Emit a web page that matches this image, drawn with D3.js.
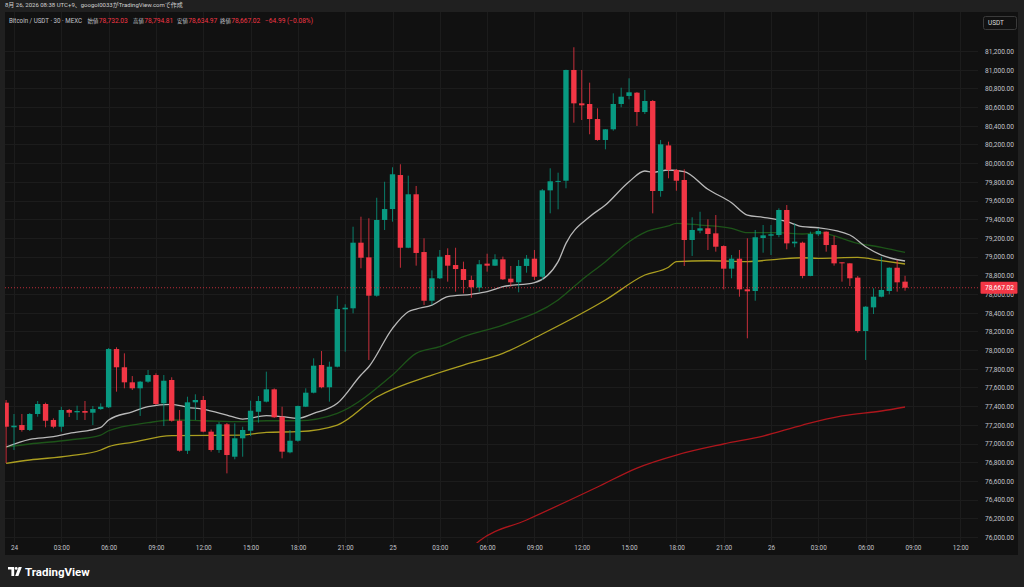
<!DOCTYPE html>
<html><head><meta charset="utf-8">
<script src="https://cdn.jsdelivr.net/npm/d3@7"></script>
<style>
html,body{margin:0;padding:0;background:#202020;overflow:hidden}
svg{display:block}
text{font-family:Roboto,"Noto Sans CJK JP",sans-serif}
</style></head><body>
<svg id="c" width="1024" height="587"></svg>
<script>
// ---------- DATA ----------
const firstIndex = -1; // candle index of first bar (index 0 = 24日 00:00, 30-min bars)
const opens  = [77437,77174,77198,77145,77316,77423,77252,77180,77359,77334,77348,77330,77369,77388,78011,77816,77655,77591,77662,77733,77430,77680,77244,76923,77441,77466,77127,76931,77206,76859,77056,77137,77340,77448,77580,77287,76906,77030,77394,77544,77840,77602,77822,78436,78447,79149,78992,78582,79392,79509,79873,79095,79667,79049,78528,78768,79017,78910,78867,78750,78668,78925,78903,78971,78764,78725,78900,78978,78785,79709,79800,79812,80997,80640,80633,80472,80248,80362,80633,80719,80754,80547,80665,79702,80190,79927,79820,79178,79278,79303,79249,79113,78871,78978,78650,78632,79199,79224,79231,79499,79142,79149,78793,79239,79267,79124,78939,78928,78775,78204,78457,78571,78632,78881,78732.03];
const highs  = [77466,77316,77316,77327,77455,77437,77270,77394,77370,77405,77455,77402,77430,78022,78030,77965,77722,77670,77787,77751,77733,77709,77359,77501,77527,77508,77150,77230,77220,77216,77180,77458,77508,77769,77590,77394,77145,77405,77591,77912,77990,77876,78582,78490,79320,79427,79410,79630,79801,79956,79988,79866,79756,79196,78853,79071,79089,79095,78946,78796,78964,79031,79025,79000,78900,78964,79017,79071,79723,79945,79898,81000,81240,80997,80861,80587,80365,80747,80807,80908,80760,80783,80676,80248,80230,79938,79934,79421,79480,79399,79445,79120,79017,79071,79196,79285,79338,79338,79517,79552,79356,79160,79267,79300,79270,79221,78939,78930,78793,78470,78661,78999,78885,78964,78794.81];
const lows   = [76792,76931,77127,77134,77287,77174,77163,77127,77284,77252,77252,77198,77360,77380,77555,77591,77573,77295,77650,77412,77187,77234,76913,76888,77252,77120,76913,76900,76681,76831,76859,77080,77223,77440,77275,76842,76895,77020,77390,77537,77591,77448,77815,77983,78393,78875,77894,78571,79285,79374,78881,79090,78903,78482,78482,78760,78732,78625,78607,78560,78625,78839,78900,78750,78678,78618,78828,78750,78750,79463,79506,79731,80433,80462,80309,80240,80148,80347,80598,80683,80398,80526,79463,79641,79838,79705,78900,79007,79250,79071,79053,78650,78768,78571,78126,78528,79042,79017,79207,79078,79100,78768,78790,79220,79053,78903,78732,78686,78186,77894,78386,78564,78597,78625,78634.97];
const closes = [77180,77191,77145,77316,77423,77244,77180,77359,77330,77348,77330,77369,77394,78011,77816,77655,77591,77662,77733,77423,77672,77244,76923,77441,77466,77127,76931,77206,76877,77056,77145,77351,77455,77580,77281,76913,77030,77402,77544,77833,77602,77822,78439,78453,79149,78988,78582,79392,79509,79881,79095,79667,79039,78528,78768,78999,78903,78867,78750,78672,78918,78903,78971,78757,78725,78900,78978,78785,79709,79806,79810,80997,80640,80619,80472,80248,80362,80633,80711,80758,80547,80665,79702,80202,79927,79812,79178,79285,79303,79242,79106,78871,78978,78650,78629,79207,79228,79239,79499,79142,79160,78793,79242,79274,79124,78928,78928,78768,78204,78464,78571,78643,78881,78725,78667.02];

// moving-average lines: [candle index, price]
const maFast = [[-1,76963],[2,77045],[5,77073],[7,77109],[11,77174],[12,77252],[15,77340],[17,77394],[20,77420],[22,77388],[24,77366],[27,77305],[29,77262],[32,77298],[34,77287],[36,77270],[38,77323],[41,77430],[44,77733],[45,77822],[48,78233],[50,78410],[51,78439],[53,78482],[55,78571],[58,78597],[60,78625],[62,78678],[66,78721],[69,78946],[70,79142],[73,79427],[75,79552],[78,79801],[80,79916],[81,79902],[83,79927],[85,79909],[88,79720],[91,79577],[93,79445],[95,79421],[98,79374],[100,79320],[102,79309],[106,79231],[108,79106],[110,79017],[113,78953]];
const maMid  = [[-1,76963],[2,76995],[7,77038],[11,77091],[12,77137],[17,77223],[20,77252],[24,77244],[29,77234],[32,77244],[36,77244],[41,77323],[48,77733],[51,77965],[54,78036],[57,78143],[62,78268],[69,78536],[72,78750],[75,78946],[78,79160],[80,79260],[83,79328],[84,79356],[87,79338],[91,79303],[93,79256],[97,79256],[100,79242],[102,79256],[107,79142],[110,79100],[113,79046]];
const maSlow = [[-1,76788],[2,76824],[7,76867],[11,76931],[12,76966],[15,77013],[20,77084],[29,77091],[32,77120],[36,77127],[41,77198],[46,77498],[53,77733],[57,77840],[62,77965],[67,78172],[75,78536],[80,78803],[83,78886],[84,78946],[88,78956],[93,78946],[97,78974],[100,78988],[102,78982],[107,78992],[110,78956],[113,78921]];
const maLong = [[57,75800],[59,75957],[65,76182],[74,76535],[79,76738],[84,76877],[90,76995],[95,77080],[100,77198],[105,77295],[110,77348],[113,77391]];

const priceTicks = d3.range(76000, 81201, 200);
const timeTickIdx = d3.range(0, 121, 6);
const timeLabels = ["24","03:00","06:00","09:00","12:00","15:00","18:00","21:00","25","03:00","06:00","09:00","12:00","15:00","18:00","21:00","26","03:00","06:00","09:00","12:00"];
const symbolText = "Bitcoin / USDT · 30 · MEXC";
const ohlcNames = ["始値","高値","安値","終値"];
const changeText = "−64.99 (−0.08%)";
const topNote = "8月 26, 2026 08:38 UTC+9、googol0033がTradingView.comで作成";
const currency = "USDT";
const brand = "TradingView";

// ---------- DRAW ----------
const UP = "#089981", DN = "#f23645";
const svg = d3.select("#c");
svg.append("rect").attr("width",1024).attr("height",587).attr("fill","#202020");
svg.append("rect").attr("x",5).attr("y",12).attr("width",1013).attr("height",543).attr("fill","#111111");

const plot = {x0:5, x1:978, y0:12, y1:543};
const x = d3.scaleLinear().domain([0,96]).range([14,771]);
const y = d3.scaleLinear().domain([76000,81200]).range([537,51]);

svg.append("clipPath").attr("id","pc").append("rect")
  .attr("x",plot.x0).attr("y",plot.y0).attr("width",plot.x1-plot.x0).attr("height",plot.y1-plot.y0);

// grid
const grid = svg.append("g").attr("clip-path","url(#pc)");
grid.selectAll("line.h").data(priceTicks).join("line")
  .attr("x1",plot.x0).attr("x2",plot.x1).attr("y1",d=>Math.round(y(d))+0.5).attr("y2",d=>Math.round(y(d))+0.5)
  .attr("stroke","#1c1c1c").attr("stroke-width",1);
grid.selectAll("line.v").data(timeTickIdx).join("line")
  .attr("y1",plot.y0).attr("y2",plot.y1).attr("x1",d=>Math.round(x(d))+0.5).attr("x2",d=>Math.round(x(d))+0.5)
  .attr("stroke","#1c1c1c").attr("stroke-width",1);

const g = svg.append("g").attr("clip-path","url(#pc)");

// moving averages
const line = d3.line().x(d=>x(d[0])).y(d=>y(d[1])).curve(d3.curveMonotoneX);
[[maLong,"#ad161c",1.3],[maSlow,"#ab9e20",1.3],[maMid,"#1d5419",1.3],[maFast,"#b9b9b9",1.3]].forEach(([data,col,w])=>{
  g.append("path").attr("d",line(data)).attr("fill","none").attr("stroke",col).attr("stroke-width",w);
});

// candles
const candles = opens.map((o,k)=>({i:firstIndex+k,o,h:highs[k],l:lows[k],c:closes[k]}));
const bw = (x(1)-x(0))*0.68;
const cg = g.selectAll("g.cd").data(candles).join("g");
cg.append("line")
  .attr("x1",d=>x(d.i)).attr("x2",d=>x(d.i)).attr("y1",d=>y(d.h)).attr("y2",d=>y(d.l))
  .attr("stroke",d=>d.c>=d.o?UP:DN).attr("stroke-width",1).attr("stroke-opacity",0.8);
cg.append("rect")
  .attr("x",d=>x(d.i)-bw/2).attr("width",bw)
  .attr("y",d=>y(Math.max(d.o,d.c)))
  .attr("height",d=>Math.max(1,Math.abs(y(d.o)-y(d.c))))
  .attr("fill",d=>d.c>=d.o?UP:DN);

// last price line
const last = candles[candles.length-1];
g.append("line").attr("x1",plot.x0).attr("x2",plot.x1).attr("y1",y(last.c)).attr("y2",y(last.c))
  .attr("stroke",DN).attr("stroke-width",1).attr("stroke-dasharray","1,2").attr("stroke-opacity",0.75);

// price axis
const ya = svg.append("g").attr("transform","translate(1014,0)")
  .call(d3.axisRight(y).tickValues(priceTicks).tickFormat(d3.format(",.2f")).tickSize(0).tickPadding(0));
ya.select(".domain").remove();
ya.selectAll("text").attr("text-anchor","end").attr("x",0).attr("fill","#c2c4cb")
  .style("font-size","6.6px").style("font-family","Roboto,sans-serif").attr("dy","0.35em");

// last price label
svg.append("rect").attr("x",980.5).attr("y",y(last.c)-6).attr("width",37).attr("height",12).attr("rx",1).attr("fill",DN);
svg.append("text").attr("x",1014).attr("y",y(last.c)).attr("dy","0.35em").attr("text-anchor","end")
  .attr("fill","#fff").style("font-size","6.6px").text(d3.format(",.2f")(last.c));

// time axis
const xa = svg.append("g").attr("transform",`translate(0,${plot.y1})`)
  .call(d3.axisBottom(x).tickValues(timeTickIdx).tickFormat((d,k)=>timeLabels[k]).tickSize(0).tickPadding(0));
xa.select(".domain").remove();
xa.selectAll("text").attr("y",5).attr("dy","0.35em").attr("fill","#c2c4cb")
  .style("font-size","6.4px").style("font-family","Roboto,sans-serif");

// currency box
svg.append("rect").attr("x",983.5).attr("y",16.5).attr("width",33).attr("height",13).attr("rx",2)
  .attr("fill","#111").attr("stroke","#3a3a3a");
svg.append("text").attr("x",988).attr("y",23).attr("dy","0.35em").attr("fill","#dcdcdc")
  .style("font-size","6.4px").text(currency);

// header
const hdr = svg.append("g").style("font-size","6.6px");
const GRAY = "#c2c4cb";
hdr.append("text").attr("x",9).attr("y",21).attr("dy","0.35em").attr("fill",GRAY)
  .attr("textLength",73).attr("lengthAdjust","spacingAndGlyphs").text(symbolText);
const hdrVals = [last.o,last.h,last.l,last.c];
const nameX = [87.5,133,177,220];
ohlcNames.forEach((n,k)=>{
  const t = hdr.append("text").attr("x",nameX[k]).attr("y",21).attr("dy","0.35em");
  t.append("tspan").attr("fill",GRAY).style("font-size","5.4px").text(n);
  t.append("tspan").attr("fill",DN).attr("dx",0.5).text(d3.format(",.2f")(hdrVals[k]));
});
hdr.append("text").attr("x",265).attr("y",21).attr("dy","0.35em").attr("fill",DN).text(changeText);

// top note
svg.append("text").attr("x",5).attr("y",5).attr("dy","0.35em").attr("fill","#d0d0d0")
  .style("font-size","6px").text(topNote);

// brand logo
const logo = svg.append("g").attr("transform","translate(8,567)").attr("fill","#fff");
logo.append("path").attr("d","M0,0 H6.2 V9 H3.4 V2.6 H0 Z");
logo.append("circle").attr("cx",8.2).attr("cy",1.4).attr("r",1.4);
logo.append("path").attr("d","M10.6,0 H13.8 L10.4,9 H7.2 Z");
svg.append("text").attr("x",25).attr("y",572).attr("dy","0.35em").attr("fill","#fff")
  .style("font-size","11.5px").style("font-weight","700").text(brand);
</script>
</body></html>
